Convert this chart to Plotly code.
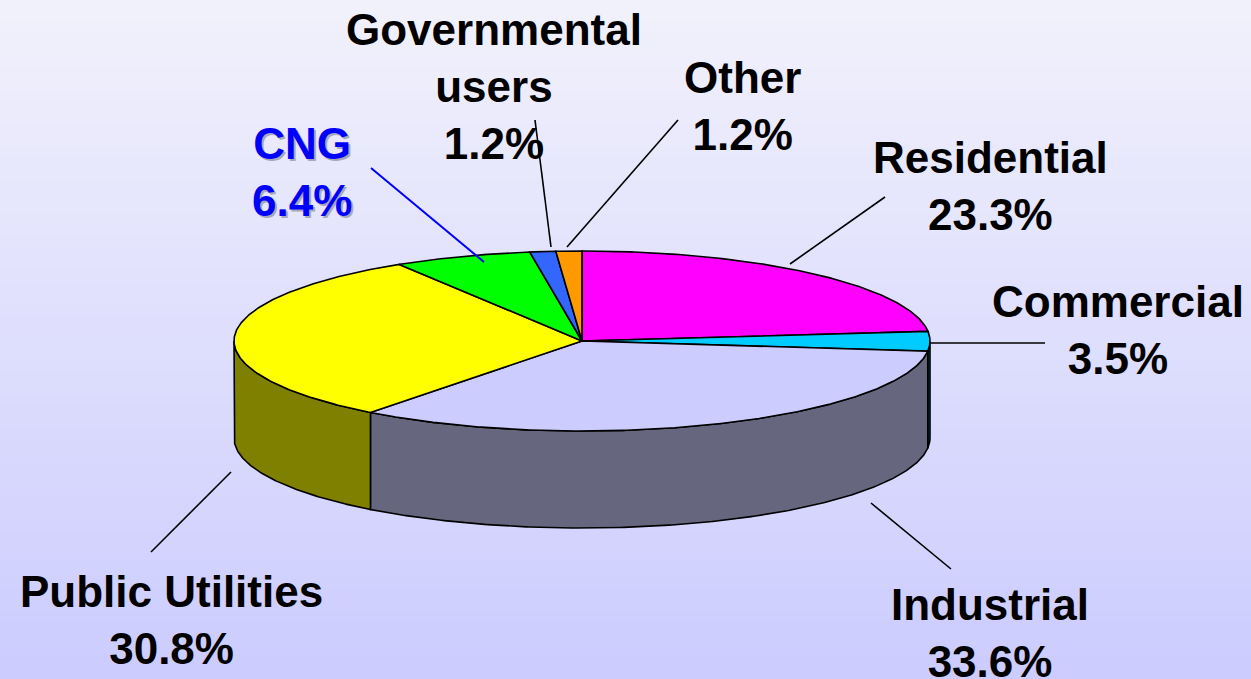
import numpy as np
import plotly.graph_objects as go

# ---------------- data ----------------
categories = ["Residential", "Commercial", "Industrial", "Public Utilities",
              "CNG", "Governmental users", "Other"]
shares = [23.3, 3.5, 33.6, 30.8, 6.4, 1.2, 1.2]
label_names = ["Residential", "Commercial", "Industrial", "Public Utilities",
               "CNG", "Governmental<br>users", "Other"]

# ---------------- styles / layout ----------------
top_colors = ["#FF00FF", "#00CCFF", "#CCCCFF", "#FFFF00", "#00FF00", "#3366FF", "#FF9900"]
label_colors = ["black", "black", "black", "black", "#0000FF", "black", "black"]
label_pos = {  # centre of each text block (pixels)
    "Residential": (990, 186),
    "Commercial": (1118, 330),
    "Industrial": (990, 633),
    "Public Utilities": (171, 620),
    "CNG": (302, 172),
    "Governmental users": (494, 86),
    "Other": (742, 106),
}
leaders = {  # leader line end points (pixels)
    "Residential": ((885, 197), (790, 264)),
    "Commercial": ((930, 343), (1045, 343)),
    "Industrial": ((871, 503), (951, 569)),
    "Public Utilities": ((231, 472), (151, 552)),
    "CNG": ((371, 168), (484, 262)),
    "Governmental users": ((535, 120), (551, 247)),
    "Other": ((678, 120), (567, 247)),
}
W, H = 1251, 679
CX, CY, RX, RY, DEPTH = 582, 341, 348, 90, 97
FONT = "Liberation Sans, Arial, sans-serif"


def pt(theta, dy=0.0):
    t = np.radians(theta)
    return CX + RX * np.cos(t), CY - RY * np.sin(t) + dy


def half(c):
    c = c.lstrip("#")
    r, g, b = (int(c[i:i + 2], 16) // 2 for i in (0, 2, 4))
    return f"rgb({r},{g},{b})"


fig = go.Figure()

# slice angles (clockwise from 12 o'clock)
total = sum(shares)
angles = []
a = 90.0
for v in shares:
    a1 = a - 360.0 * v / total
    angles.append((a, a1))
    a = a1

# side walls (front half only)
for (a0, a1), col in zip(angles, top_colors):
    hi, lo = min(a0, 0.0), max(a1, -180.0)
    if hi <= lo:
        continue
    th = np.linspace(hi, lo, max(3, int((hi - lo) * 2)))
    xt, yt = pt(th)
    xb, yb = pt(th[::-1], DEPTH)
    xs = np.concatenate([xt, xb, xt[:1]])
    ys = np.concatenate([yt, yb, yt[:1]])
    fig.add_trace(go.Scatter(x=xs, y=ys, mode="lines", fill="toself",
                             fillcolor=half(col), line=dict(color="black", width=1.6),
                             hoverinfo="skip", showlegend=False))

# top faces
for (a0, a1), col, name, v in zip(angles, top_colors, categories, shares):
    th = np.linspace(a0, a1, max(3, int((a0 - a1) * 2)))
    xa, ya = pt(th)
    xs = np.concatenate([[CX], xa, [CX]])
    ys = np.concatenate([[CY], ya, [CY]])
    fig.add_trace(go.Scatter(x=xs, y=ys, mode="lines", fill="toself",
                             fillcolor=col, line=dict(color="black", width=1.6),
                             name=name, text=f"{name}: {v}%", hoverinfo="text",
                             showlegend=False))

# leader lines
for name, col in zip(categories, label_colors):
    (x0, y0), (x1, y1) = leaders[name]
    fig.add_shape(type="line", x0=x0, y0=y0, x1=x1, y1=y1, xref="x", yref="y",
                  line=dict(color=col, width=2 if col != "black" else 1.6))

# labels
for name, lab, v, col in zip(categories, label_names, shares, label_colors):
    x, y = label_pos[name]
    txt = f"<b>{lab}<br>{v:.1f}%</b>"
    if col != "black":
        fig.add_annotation(x=x + 2, y=y + 2, text=txt, showarrow=False,
                           xref="x", yref="y", xanchor="center", yanchor="middle",
                           font=dict(family=FONT, size=44, color="#A8A8B8"))
    fig.add_annotation(x=x, y=y, text=txt, showarrow=False,
                       xref="x", yref="y", xanchor="center", yanchor="middle",
                       font=dict(family=FONT, size=44, color=col))

# background gradient
top_rgb = np.array([242, 242, 252])
bot_rgb = np.array([204, 204, 255])
n = 60
for i in range(n):
    c = top_rgb + (bot_rgb - top_rgb) * (i + 0.5) / n
    fig.add_shape(type="rect", xref="paper", yref="paper", layer="below",
                  x0=0, x1=1, y0=1 - (i + 1) / n, y1=1 - i / n + 0.002,
                  line=dict(width=0), fillcolor=f"rgb({int(c[0])},{int(c[1])},{int(c[2])})")

fig.update_layout(
    width=W, height=H, margin=dict(l=0, r=0, t=0, b=0),
    paper_bgcolor="#DCDCFA", plot_bgcolor="rgba(0,0,0,0)",
    xaxis=dict(range=[0, W], visible=False, fixedrange=True),
    yaxis=dict(range=[H, 0], visible=False, fixedrange=True),
    showlegend=False,
)

fig.write_html("out.html", config={"displayModeBar": False},
               post_script="document.body.style.margin='0';document.body.style.overflow='hidden';")
